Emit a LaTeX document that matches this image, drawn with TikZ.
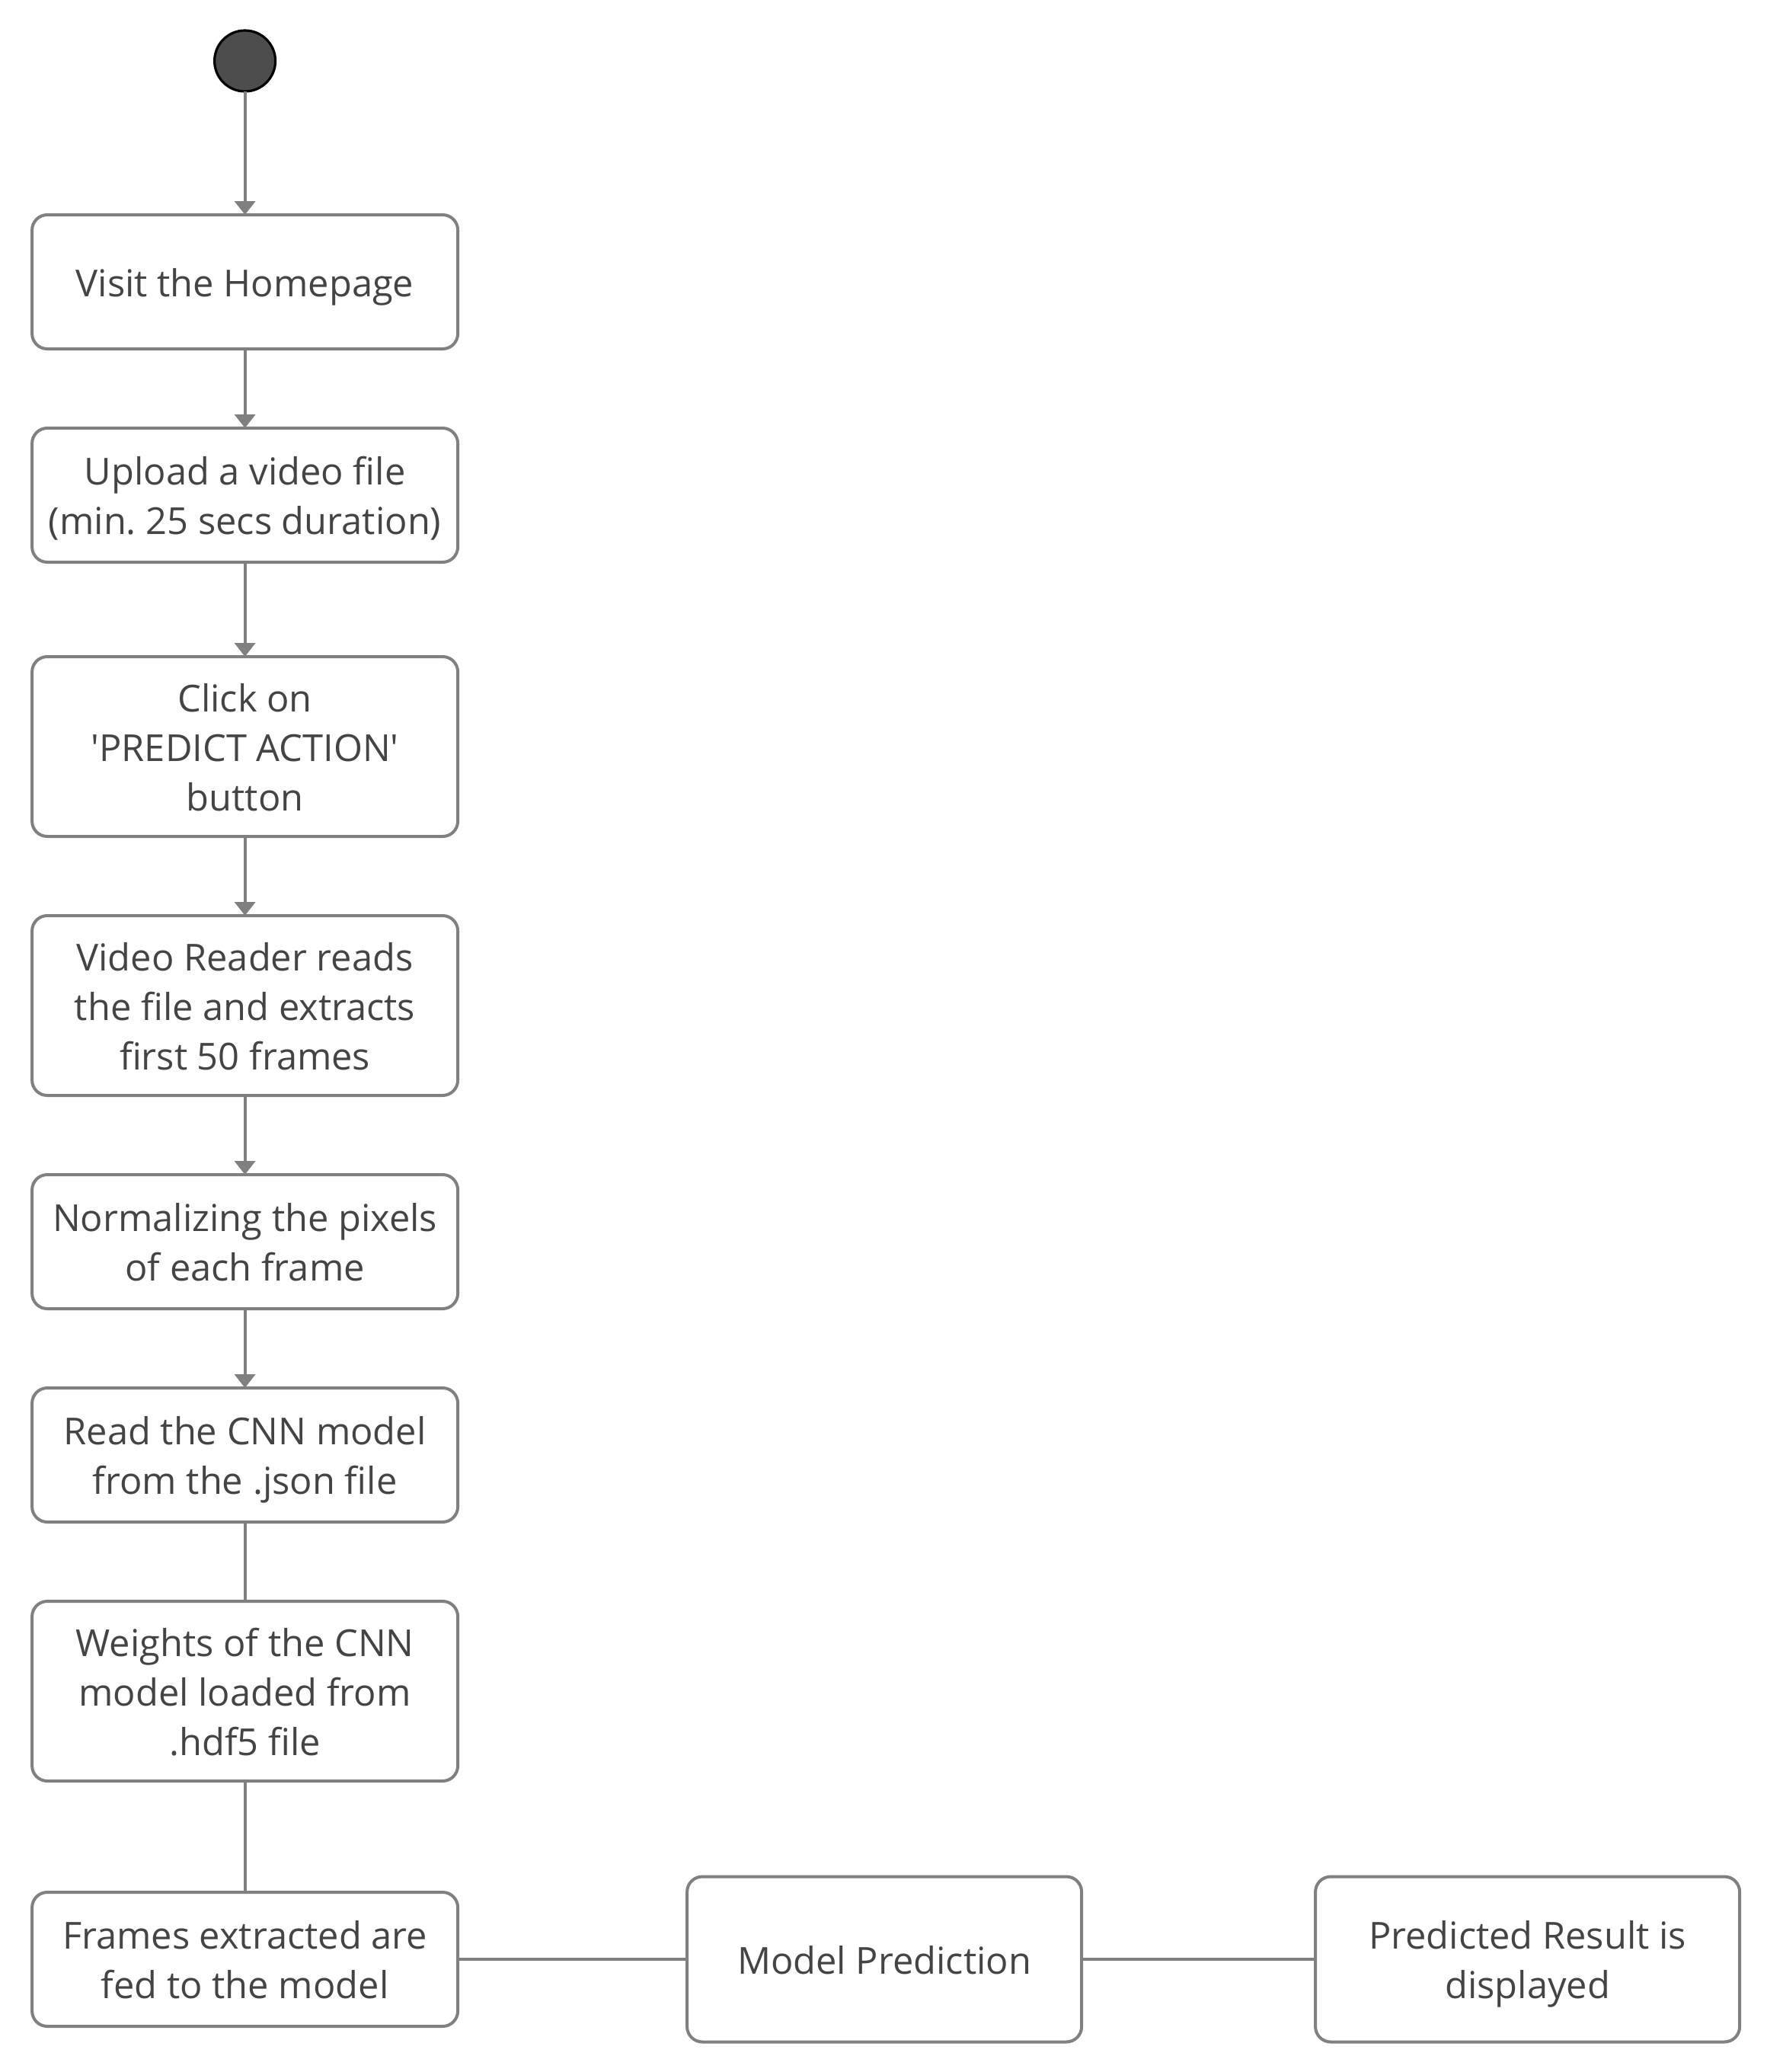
\documentclass[tikz,border=0pt]{standalone}
\usepackage{fontspec}
\setmainfont{Open Sans}
\usepackage{xcolor}
\usepackage{tikz}
\usetikzlibrary{positioning,arrows.meta}
\definecolor{edgegray}{HTML}{808080}
\definecolor{textgray}{HTML}{444444}
\definecolor{startgray}{HTML}{4D4D4D}
\frenchspacing

\begin{document}
\begin{tikzpicture}[
    activity/.style={draw=edgegray,line width=1pt,rounded corners=5pt,fill=white,
      minimum width=139.75pt,minimum height=44pt,text width=138pt,align=flush center,text=textgray,
      font=\fontsize{12.2pt}{16.25pt}\selectfont,inner sep=0pt,outer sep=0pt,
      execute at begin node={\rule{0pt}{13pt}},
      execute at end node={\rule[-3.5pt]{0pt}{0pt}}},
    start/.style={circle,draw=black,line width=0.8pt,fill=startgray,minimum size=20pt,inner sep=0pt,outer sep=0pt},
    flow/.style={draw=edgegray,line width=1pt,-{Triangle[width=6.75pt,length=4.5pt]}},
    link/.style={draw=edgegray,line width=1pt},
    node distance=26pt
  ]
  \useasboundingbox (0,0) rectangle (580pt,-680pt);

  \node[activity] (homepage) at (80.4pt,-92.5pt) {Visit the Homepage};
  \node[start, above=40.5pt of homepage] (init) {};
  \node[activity, below=of homepage] (upload) {Upload a video file\\(min. 25 secs duration)};
  \node[activity, below=31pt of upload, minimum height=59pt] (click) {Click on\\\textquotesingle PREDICT ACTION\textquotesingle\\button};
  \node[activity, below=of click, minimum height=59pt] (reader) {Video Reader reads\\the file and extracts\\first 50 frames};
  \node[activity, below=of reader] (normalize) {Normalizing the pixels\\of each frame};
  \node[activity, below=of normalize] (readcnn) {Read the CNN model\\from the .json file};
  \node[activity, below=of readcnn, minimum height=59pt] (weights) {Weights of the CNN\\model loaded from\\.hdf5 file};
  \node[activity, below=36.5pt of weights] (feed) {Frames extracted are\\fed to the model};
  \node[activity, right=75.25pt of feed, minimum width=129.5pt, text width=128pt, minimum height=54.25pt] (predict) {Model Prediction};
  \node[activity, right=76.75pt of predict, minimum width=139.25pt, text width=137.5pt, minimum height=54.25pt] (result) {Predicted Result is\\displayed};

  \draw[flow] (init) -- (homepage);
  \draw[flow] (homepage) -- (upload);
  \draw[flow] (upload) -- (click);
  \draw[flow] (click) -- (reader);
  \draw[flow] (reader) -- (normalize);
  \draw[flow] (normalize) -- (readcnn);
  \draw[link] (readcnn) -- (weights);
  \draw[link] (weights) -- (feed);
  \draw[link] (feed) -- (predict);
  \draw[link] (predict) -- (result);
\end{tikzpicture}
\end{document}
